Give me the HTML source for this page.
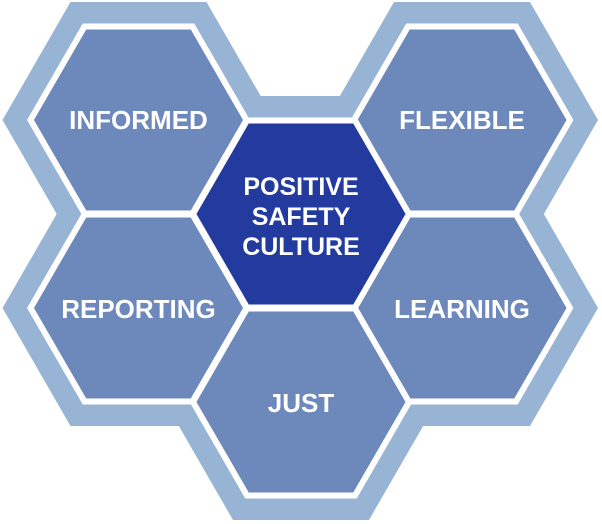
<!DOCTYPE html>
<html><head><style>html,body{margin:0;padding:0;background:#fff}svg{display:block}text{font-family:"Liberation Sans",sans-serif;font-weight:bold;fill:#fff;font-size:26px;text-anchor:middle}.c{font-size:25px}</style></head>
<body>
<svg width="602" height="524" viewBox="0 0 602 524">
<defs>
<polygon id="big" points="-136,0 -68,-118 68,-118 136,0 68,118 -68,118"/>
<polygon id="hx" points="-108,0 -54,-93.5 54,-93.5 108,0 54,93.5 -54,93.5"/>
</defs>
<g fill="#98b4d4">
<use href="#big" x="138.5" y="120"/>
<use href="#big" x="462" y="120"/>
<use href="#big" x="301" y="214"/>
<use href="#big" x="138.5" y="308"/>
<use href="#big" x="462" y="308"/>
<use href="#big" x="301" y="402"/>
</g>
<g fill="#6d89bb" stroke="#fff" stroke-width="6" stroke-linejoin="miter">
<use href="#hx" x="138.5" y="120"/>
<use href="#hx" x="462" y="120"/>
<use href="#hx" x="138.5" y="308"/>
<use href="#hx" x="462" y="308"/>
<use href="#hx" x="301" y="402"/>
<use href="#hx" x="301" y="214" fill="#233b9f"/>
</g>
<text x="138.5" y="129">INFORMED</text>
<text x="462" y="129">FLEXIBLE</text>
<text x="138.5" y="318">REPORTING</text>
<text x="462" y="318">LEARNING</text>
<text x="301" y="412">JUST</text>
<text class="c" x="301" y="195">POSITIVE</text>
<text class="c" x="301" y="225">SAFETY</text>
<text class="c" x="301" y="255">CULTURE</text>
</svg>
</body></html>
